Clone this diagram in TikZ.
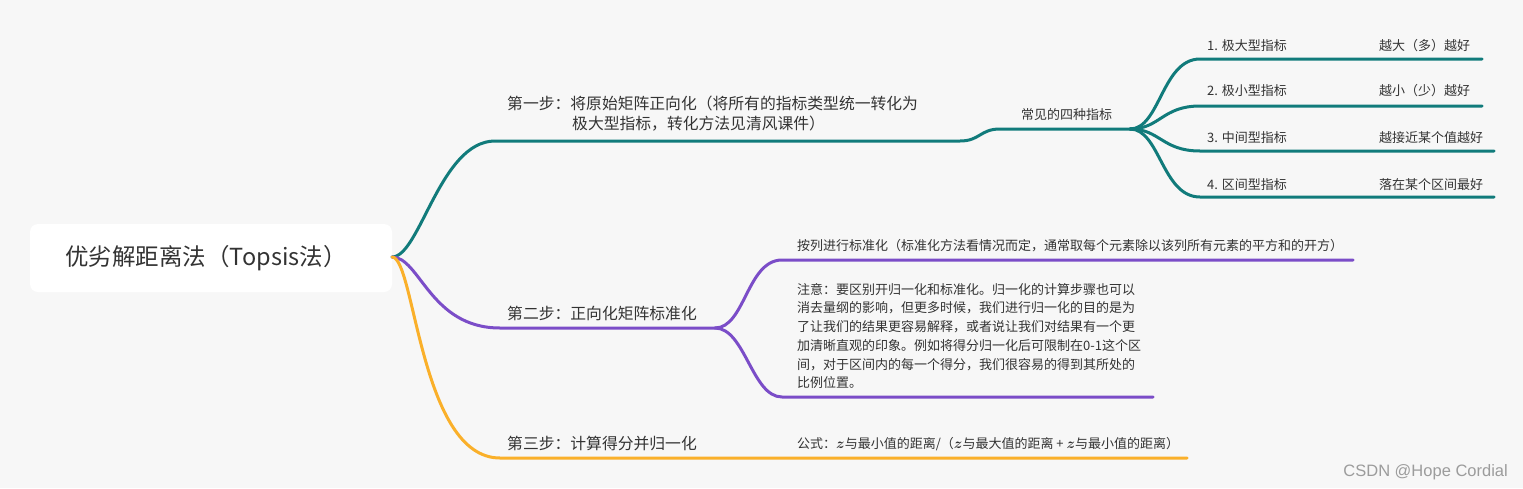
\documentclass[tikz,border=0pt]{standalone}
\usepackage{fontspec}
\setmainfont{Noto Sans CJK SC}
\newfontfamily\wmfont{Liberation Sans}
\definecolor{bgc}{HTML}{F7F7F7}
\definecolor{tealc}{HTML}{117B7B}
\definecolor{purc}{HTML}{7B4DC8}
\definecolor{orac}{HTML}{FAB02A}
\definecolor{txt}{HTML}{333333}
\definecolor{wm}{HTML}{9C9C9C}
\tikzset{
  branch/.style={line width=3pt, line cap=round},
  steplbl/.style={anchor=base west, inner sep=0pt, text=txt, font=\fontsize{15.8}{19}\selectfont},
  smalllbl/.style={anchor=base west, inner sep=0pt, text=txt, font=\fontsize{13}{18.7}\selectfont},
}
\newcommand{\zz}{{\fontsize{15}{18}\selectfont\boldmath$z$}}
\begin{document}
\begin{tikzpicture}[x=1pt,y=-1pt]
\fill[bgc] (0,0) rectangle (1523,488);
\useasboundingbox (0,0) rectangle (1523,488);
% root
\node[fill=white, rounded corners=8pt, minimum width=362pt, minimum height=68pt, inner sep=0pt] (root) at (211,258) {};
\node[inner sep=0pt, text=txt, font=\fontsize{23.5}{28}\selectfont] (roott) at (206,258) {优劣解距离法（Topsis法）};
\coordinate (r) at (392,257);
% step 1
\coordinate (s1a) at (495,141);
\coordinate (s1b) at (960,141);
\coordinate (h1a) at (1000,129);
\coordinate (h1) at (1130,129);
\draw[branch, tealc] (r) .. controls +(28,0) and +(-55,0) .. (s1a) -- (s1b) .. controls +(20,0) and +(-20,0) .. (h1a) -- (h1);
\node[steplbl] (s1t) at (507,109) {第一步：将原始矩阵正向化（将所有的指标类型统一转化为};
\node[steplbl] (s1u) at (572,129) {极大型指标，转化方法见清风课件）};
\node[smalllbl] (four) at (1021,119) {常见的四种指标};
% four children
\foreach \i/\y/\e in {1/59/1482, 2/106/1482, 3/151/1494, 4/197/1494} {
  \coordinate (c\i a) at (1200,\y);
  \coordinate (c\i b) at (\e,\y);
  \draw[branch, tealc] (h1) .. controls +(30,0) and +(-38,0) .. (c\i a) -- (c\i b);
}
\node[smalllbl] (k1) at (1207,50) {1. 极大型指标};
\node[smalllbl] (v1) at (1379,50) {越大（多）越好};
\node[smalllbl] (k2) at (1207,95) {2. 极小型指标};
\node[smalllbl] (v2) at (1379,95) {越小（少）越好};
\node[smalllbl] (k3) at (1207,142) {3. 中间型指标};
\node[smalllbl] (v3) at (1379,142) {越接近某个值越好};
\node[smalllbl] (k4) at (1207,189) {4. 区间型指标};
\node[smalllbl] (v4) at (1379,189) {落在某个区间最好};
% step 2
\coordinate (s2a) at (500,328);
\coordinate (h2) at (715,328);
\draw[branch, purc] (r) .. controls +(28,0) and +(-70,0) .. (s2a) -- (h2);
\node[steplbl] (s2t) at (507,319) {第二步：正向化矩阵标准化};
\coordinate (p1a) at (782,260);
\coordinate (p1b) at (1353,260);
\coordinate (p2a) at (782,397);
\coordinate (p2b) at (1153,397);
\draw[branch, purc] (h2) .. controls +(30,0) and +(-35,0) .. (p1a) -- (p1b);
\draw[branch, purc] (h2) .. controls +(30,0) and +(-30,0) .. (p2a) -- (p2b);
\node[smalllbl] (p1t) at (797,250) {按列进行标准化（标准化方法看情况而定，通常取每个元素除以该列所有元素的平方和的开方）};
\node[smalllbl, align=left, anchor=north west] (p2t) at (797,283) {注意：要区别开归一化和标准化。归一化的计算步骤也可以\\消去量纲的影响，但更多时候，我们进行归一化的目的是为\\了让我们的结果更容易解释，或者说让我们对结果有一个更\\加清晰直观的印象。例如将得分归一化后可限制在0-1这个区\\间，对于区间内的每一个得分，我们很容易的得到其所处的\\比例位置。};
% step 3
\coordinate (s3a) at (500,458);
\coordinate (s3b) at (1187,458);
\draw[branch, orac] (r) .. controls +(23,0) and +(-80,0) .. (s3a) -- (s3b);
\node[steplbl] (s3t) at (507,449) {第三步：计算得分并归一化};
\node[smalllbl] (f) at (797,448) {公式：\zz 与最小值的距离/（\zz 与最大值的距离 + \zz 与最小值的距离）};
% watermark
\node[anchor=base east, inner sep=0pt, text=wm, font=\wmfont\fontsize{16.5}{19}\selectfont] (wmk) at (1508,476) {CSDN @Hope Cordial};
\end{tikzpicture}
\end{document}
